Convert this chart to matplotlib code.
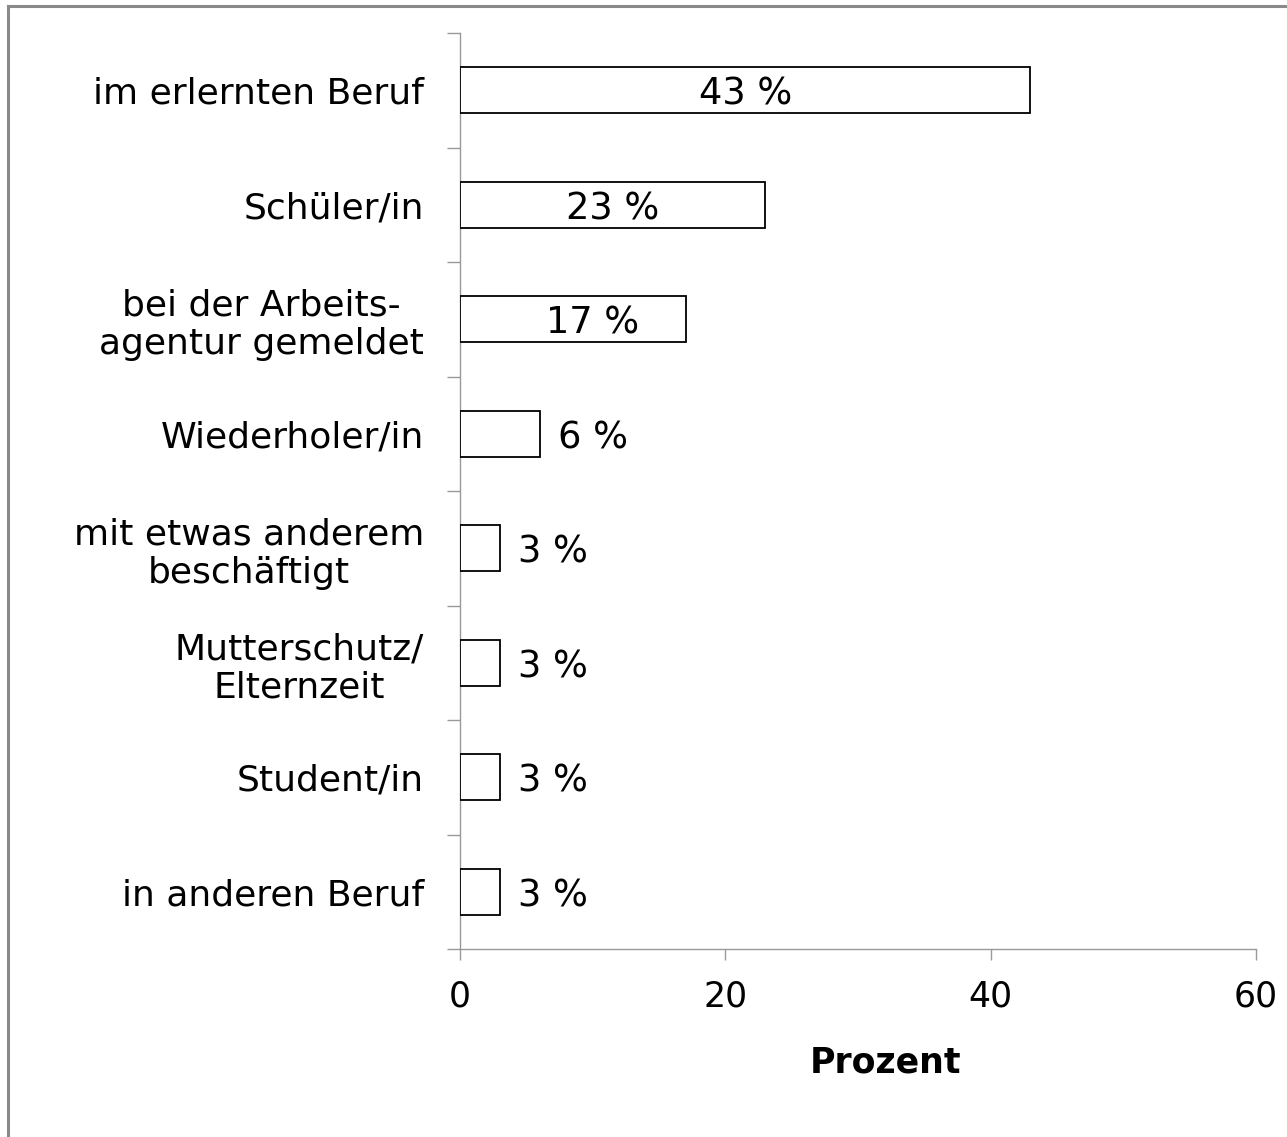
import matplotlib.pyplot as plt
from matplotlib.lines import Line2D

plt.rcParams['font.family'] = ['DejaVu Sans']

# data
categories = ['im erlernten Beruf', 'Schüler/in', 'bei der Arbeits-\nagentur gemeldet',
              'Wiederholer/in', 'mit etwas anderem\nbeschäftigt', 'Mutterschutz/\nElternzeit',
              'Student/in', 'in anderen Beruf']
values = [43, 23, 17, 6, 3, 3, 3, 3]
xticks = [0, 20, 40, 60]

W, H = 1287, 1137
fig = plt.figure(figsize=(W / 100, H / 100), dpi=100)

# outer frame (only left and top edges are visible in the crop)
fig.add_artist(Line2D([8 / W, 8 / W], [0, 1 - 6 / H], color='#8a8a8a', lw=2.2))
fig.add_artist(Line2D([8 / W, 1], [1 - 6 / H, 1 - 6 / H], color='#8a8a8a', lw=2.2))

ax = fig.add_axes([460 / W, 1 - 949 / H, (1256 - 460) / W, (949 - 33) / H])

n = len(categories)
ypos = list(range(n))
ax.barh(ypos, values, height=0.4, color='white', edgecolor='black', linewidth=1.3, zorder=3)

for y, v in zip(ypos, values):
    if v >= 10:
        ax.text(max(v / 2, 10), y, f'{v} %', ha='center', va='center_baseline',
                fontsize=26.5, zorder=4)
    else:
        ax.annotate(f'{v} %', (v, y), xytext=(18, 0), textcoords='offset pixels',
                    ha='left', va='center_baseline', fontsize=26.5, zorder=4)

ax.set_ylim(n - 0.5, -0.5)
ax.set_xlim(0, 60)

# category ticks between bars, labels at bar centres
ax.set_yticks([i - 0.5 for i in range(n + 1)])
ax.set_yticklabels([])
ax.set_yticks(ypos, minor=True)
ax.set_yticklabels(categories, minor=True, fontsize=26, multialignment='center',
                   linespacing=1.15)
ax.tick_params(axis='y', which='major', length=9.5, width=1, color='#999999', direction='out')
ax.tick_params(axis='y', which='minor', length=0, pad=26)

ax.set_xticks(xticks)
ax.set_xticklabels([str(t) for t in xticks], fontsize=25)
ax.tick_params(axis='x', length=8, width=1, color='#999999', pad=14)

ax.set_xlabel('Prozent', fontsize=25, fontweight='bold')
ax.xaxis.set_label_coords(0.535, -0.105)

for side in ['top', 'right']:
    ax.spines[side].set_visible(False)
for side in ['left', 'bottom']:
    ax.spines[side].set_color('#999999')
    ax.spines[side].set_linewidth(1)

fig.savefig('out.png', dpi=100, facecolor='white')
